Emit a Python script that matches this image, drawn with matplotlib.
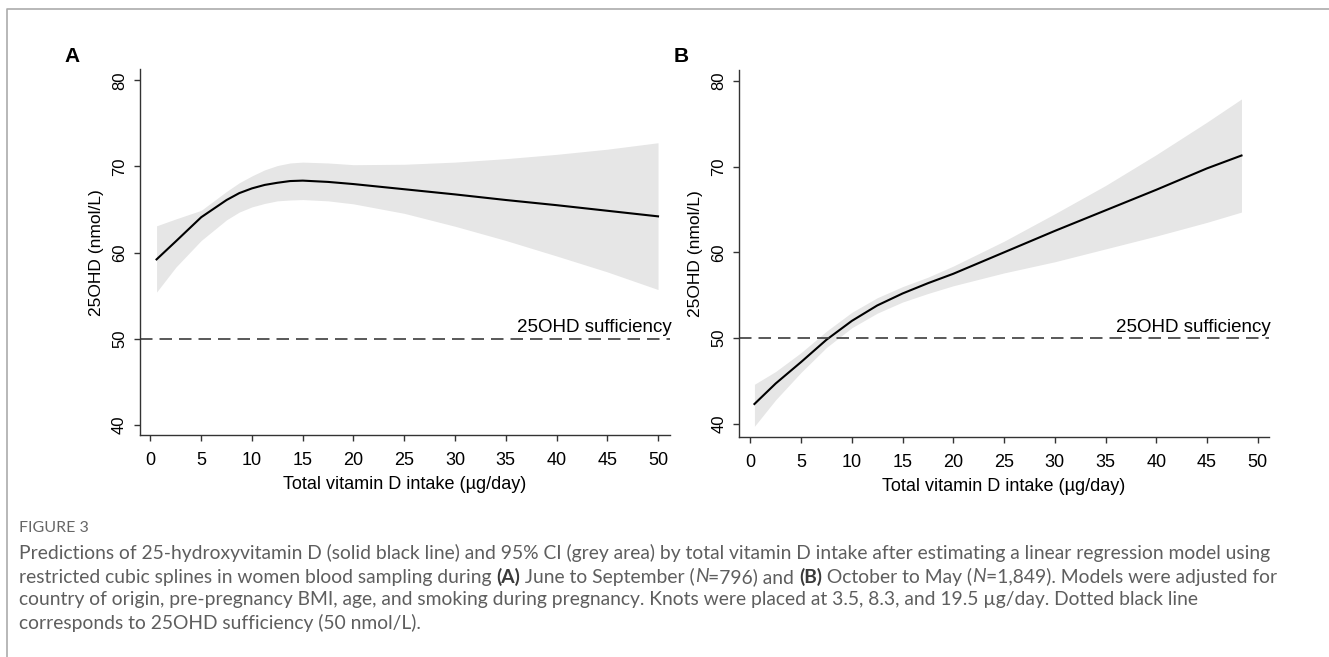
import numpy as np
import matplotlib
matplotlib.use('Agg')
import matplotlib.pyplot as plt
from matplotlib.lines import Line2D

# panel A : June to September
xA = [0.6, 2.5, 5, 7.5, 8.75, 10, 11.25, 12.5, 13.75, 15, 17.5, 20, 25, 30, 35, 40, 45, 50]
fitA = [59.2, 61.3, 64.1, 66.1, 66.9, 67.45, 67.85, 68.1, 68.3, 68.35, 68.2, 67.95, 67.35, 66.75, 66.1, 65.5, 64.85, 64.2]
upA = [63.1, 63.9, 64.9, 67.1, 68.1, 68.9, 69.6, 70.1, 70.4, 70.5, 70.4, 70.2, 70.25, 70.5, 70.9, 71.4, 72.0, 72.75]
loA = [55.4, 58.3, 61.4, 63.8, 64.7, 65.3, 65.7, 66.0, 66.1, 66.15, 66.0, 65.65, 64.55, 63.05, 61.4, 59.6, 57.75, 55.7]

# panel B : October to May
xB = [0.4, 2.5, 5, 7.5, 10, 12.5, 15, 17.5, 20, 25, 30, 35, 40, 45, 48.4]
fitB = [42.3, 44.7, 47.2, 49.8, 52.0, 53.8, 55.2, 56.4, 57.5, 60.0, 62.5, 64.9, 67.3, 69.8, 71.3]
upB = [44.6, 46.1, 48.3, 50.8, 53.0, 54.7, 56.0, 57.1, 58.4, 61.3, 64.5, 67.8, 71.4, 75.2, 77.9]
loB = [39.7, 42.8, 46.0, 48.9, 51.2, 52.9, 54.2, 55.2, 56.1, 57.6, 58.9, 60.4, 61.9, 63.5, 64.7]

xticks = [0, 5, 10, 15, 20, 25, 30, 35, 40, 45, 50]
yticks = [40, 50, 60, 70, 80]
sufficiency = 50

W, H = 1329, 657
chartFont = 'Liberation Sans'
capFont = ['Lato', 'DejaVu Sans']


def px(l, t, r, b):
	# pixel box (from top left) -> figure fraction
	return [l / W, 1 - b / H, (r - l) / W, (b - t) / H]


def drawPanel(ax, x, fit, up, lo, xlim, ylim):
	ax.fill_between(x, lo, up, color='#e6e6e6', linewidth=0)
	ax.plot(x, fit, color='black', linewidth=1.5)
	ax.axhline(sufficiency, color='#3c3c3c', linewidth=1.2, dashes=(7.5, 4.2))
	ax.text(xlim[1] + 0.2, sufficiency + 0.25, '25OHD sufficiency', ha='right', va='bottom',
		fontsize=13.5, family=chartFont)

	ax.set_xlim(*xlim)
	ax.set_ylim(*ylim)
	ax.set_xticks(xticks)
	ax.set_yticks(yticks)
	for s in ['top', 'right']:
		ax.spines[s].set_visible(False)
	for s in ['left', 'bottom']:
		ax.spines[s].set_color('#333333')
		ax.spines[s].set_linewidth(1.0)
	ax.tick_params(axis='x', length=4, width=1, color='#333333', pad=8, labelsize=13)
	ax.tick_params(axis='y', length=4, width=1, color='#333333', pad=5, labelsize=12, labelrotation=90)
	for lab in ax.get_yticklabels():
		lab.set_va('center')
		lab.set_family(chartFont)
	for lab in ax.get_xticklabels():
		lab.set_family(chartFont)
	ax.set_xlabel('Total vitamin D intake (\u00b5g/day)', fontsize=13, family=chartFont, labelpad=5)
	ax.set_ylabel('25OHD (nmol/L)', fontsize=12.5, family=chartFont, labelpad=6)


def richLine(fig, x, y, parts, size):
	# draw text pieces one after another on the same line
	r = fig.canvas.get_renderer()
	for s, style in parts:
		kw = dict(fontsize=size, family=capFont, color='#5e5e5e', va='center', ha='left')
		if style == 'b':
			kw['fontweight'] = 'bold'
			kw['color'] = '#3a3a3a'
		if style == 'i':
			kw['fontstyle'] = 'italic'
		t = fig.text(x / W, 1 - y / H, s, **kw)
		x += t.get_window_extent(r).width


fig = plt.figure(figsize=(W / 100, H / 100), dpi=100)

axA = fig.add_axes(px(139.6, 69.3, 670, 435.3))
drawPanel(axA, xA, fitA, upA, loA, (-1.07, 51.18), (38.77, 81.28))
axB = fig.add_axes(px(738.9, 70, 1269.2, 437))
drawPanel(axB, xB, fitB, upB, loB, (-1.13, 51.13), (38.45, 81.28))

fig.text(72.5 / W, 1 - 56 / H, 'A', fontsize=15, fontweight='bold', family=chartFont, ha='center', va='center')
fig.text(681.5 / W, 1 - 57 / H, 'B', fontsize=15, fontweight='bold', family=chartFont, ha='center', va='center')

# grey frame round the figure (top and left only)
fig.add_artist(Line2D([7.3 / W, 7.3 / W, 1], [0, 1 - 9 / H, 1 - 9 / H], transform=fig.transFigure,
	color='#ababab', linewidth=1.2))

# caption
capX = 19
fig.text(capX / W, 1 - 528 / H, 'FIGURE 3', fontsize=11.5, family=capFont, color='#666666', va='center')
capSize = 13.85
richLine(fig, capX, 553, [('Predictions of 25-hydroxyvitamin D (solid black line) and 95% CI (grey area) by total vitamin D intake after estimating a linear regression model using', 'n')], capSize)
richLine(fig, capX, 577, [('restricted cubic splines in women blood sampling during ', 'n'), ('(A)', 'b'),
	(' June to September (', 'n'), ('N', 'i'), ('=796) and ', 'n'), ('(B)', 'b'),
	(' October to May (', 'n'), ('N', 'i'), ('=1,849). Models were adjusted for', 'n')], capSize)
richLine(fig, capX, 600, [('country of origin, pre-pregnancy BMI, age, and smoking during pregnancy. Knots were placed at 3.5, 8.3, and 19.5 \u00b5g/day. Dotted black line', 'n')], capSize)
richLine(fig, capX, 623, [('corresponds to 25OHD sufficiency (50 nmol/L).', 'n')], capSize)

fig.savefig('out.png', dpi=100)
